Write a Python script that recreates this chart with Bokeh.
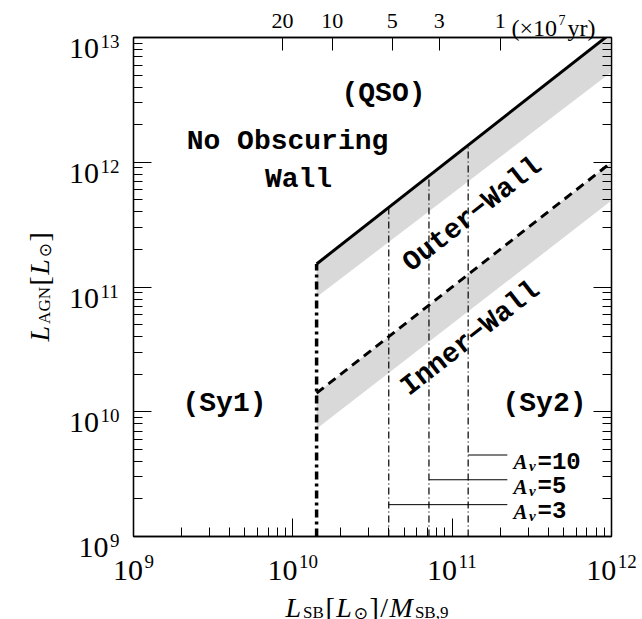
import numpy as np
from bokeh.plotting import figure
from bokeh.models import FixedTicker, LogAxis, Label, Range1d
from bokeh.core.properties import value
from bokeh.embed import file_html
from bokeh.resources import INLINE

# ---------------- data ----------------
wall_x = [1.41e10, 1.0e12]            # L_SB where the walls start / right edge
outer_wall_y = [1.53e11, 1.09e13]     # solid line (outer wall)
outer_band_lo = [8.3e10, 5.3e12]      # lower edge of grey band under outer wall
inner_wall_y = [1.41e10, 1.0e12]      # dashed line (inner wall)
inner_band_lo = [7.3e9, 4.93e11]      # lower edge of grey band under inner wall

av_values = ["10", "5", "3"]
av_x = [1.26e11, 7.15e10, 4.0e10]     # vertical dash-dot lines
av_y = [4.5e9, 2.85e9, 1.8e9]         # horizontal marker lines
av_end_x = 2.22e11

age_labels = ["20", "10", "5", "3", "1"]           # x 10^7 yr
age_x = [8.6e9, 1.77e10, 4.2e10, 8.3e10, 2.0e11]

x_decades = [1e9, 1e10, 1e11, 1e12]
x_exponents = ["9", "10", "11", "12"]
y_decades = [1e9, 1e10, 1e11, 1e12, 1e13]
y_exponents = ["9", "10", "11", "12", "13"]

# ---------------- figure ----------------
W, H = 642, 619
FL, FR, FT, FB = 133, 611, 37, 536   # intended frame edges (canvas px)

p = figure(width=W, height=H, x_axis_type="log", y_axis_type="log",
           x_range=Range1d(1e9, 1e12), y_range=Range1d(1e9, 1e13),
           output_backend="svg", toolbar_location=None,
           min_border_left=FL, min_border_right=W - FR,
           min_border_top=FT, min_border_bottom=H - FB)
p.grid.visible = False
p.background_fill_color = "white"
p.border_fill_color = "white"
p.outline_line_color = "black"
p.outline_line_width = 1.3

def minors(decs):
    return [float(k * d) for d in decs[:-1] for k in range(2, 10)]

SERIF = "Liberation Serif"
MONO = "Liberation Mono"

def style_axis(ax):
    ax.major_tick_in = 18
    ax.major_tick_out = 0
    ax.minor_tick_in = 9
    ax.minor_tick_out = 0
    ax.axis_line_color = "black"
    ax.axis_line_width = 1.3
    ax.major_tick_line_color = "black"
    ax.minor_tick_line_color = "black"
    ax.major_label_text_font = SERIF
    ax.major_label_text_font_size = "2px"
    ax.major_label_text_color = None
    ax.major_label_standoff = 0

xa = p.xaxis[0]
xa.ticker = FixedTicker(ticks=x_decades, minor_ticks=minors(x_decades))
style_axis(xa)
ya = p.yaxis[0]
ya.ticker = FixedTicker(ticks=y_decades, minor_ticks=minors(y_decades))
style_axis(ya)

ra = LogAxis(ticker=FixedTicker(ticks=y_decades, minor_ticks=minors(y_decades)))
style_axis(ra)
p.add_layout(ra, "right")

ta = LogAxis(ticker=FixedTicker(ticks=age_x))
style_axis(ta)
ta.major_tick_in = 13
ta.minor_tick_line_color = None
ta.major_label_overrides = dict(zip(age_x, age_labels))
ta.major_label_text_font_size = "22px"
ta.major_label_text_color = "black"
ta.major_label_standoff = 10
p.add_layout(ta, "above")

# ---------------- marks ----------------
GREY = "#d9d9d9"
p.varea(x=wall_x, y1=outer_band_lo, y2=outer_wall_y, fill_color=GREY)
p.varea(x=wall_x, y1=inner_band_lo, y2=inner_wall_y, fill_color=GREY)

p.line(wall_x, outer_wall_y, line_color="black", line_width=3)
p.line(wall_x, inner_wall_y, line_color="black", line_width=3, line_dash="9 6")

# thick dash-dot vertical at the wall start
p.line([wall_x[0], wall_x[0]], [1e9, outer_wall_y[0]], line_color="black",
       line_width=3.5, line_dash="8 4 3 4")

lx = np.log10(wall_x)
ly = np.log10(outer_wall_y)
for xv in av_x:
    ytop = float(10 ** np.interp(np.log10(xv), lx, ly))
    p.line([xv, xv], [1e9, ytop], line_color="black", line_width=1.2,
           line_dash="7 3 1 3")

p.segment(x0=av_x, y0=av_y, x1=[av_end_x] * 3, y1=av_y,
          line_color="black", line_width=1)

# ---------------- text ----------------
def dxv(px):
    return float(10 ** (9 + 3 * (px - FL) / (FR - FL)))

def dyv(py):
    return float(10 ** (9 + 4 * (FB - py) / (FB - FT)))

def pyv(yd):
    return float(FB - (np.log10(yd) - 9) * (FB - FT) / 4)

def pxv(xd):
    return float(FL + (np.log10(xd) - 9) * (FR - FL) / 3)

def lab(text, px, py, size, font=MONO, style="bold", align="center",
        baseline="middle", angle=0.0):
    # text inside the frame
    p.add_layout(Label(x=dxv(px), y=dyv(py), text=text, text_font=font,
                       text_font_size=f"{size}px", text_font_style=style,
                       text_align=align, text_baseline=baseline,
                       angle=float(angle), text_color="black"))

def otxt(text, px, py, size, font=SERIF, style="normal", align="left",
         baseline="alphabetic", angle=0.0):
    # text outside the frame: anchored just inside, shifted by pixel offsets
    apx = min(max(px, FL + 2), FR - 2)
    apy = min(max(py, FT + 2), FB - 2)
    p.text(x=[dxv(apx)], y=[dyv(apy)], text=[text],
           x_offset=float(px - apx), y_offset=float(py - apy),
           angle=float(angle), text_font=value(font),
           text_font_size=value(f"{size}px"), text_font_style=style,
           text_align=align, text_baseline=baseline, text_color="black",
           level="guide")

# x axis label: L_SB[L_sun]/M_SB,9
pieces_x = [("L", 28, SERIF, "italic", 0, 17.6),
            ("SB", 17, SERIF, "normal", 5, 22.3),
            ("[", 28, SERIF, "normal", 0, 10.8),
            ("L", 28, SERIF, "italic", 0, 17.6),
            ("\u2299", 17, "DejaVu Sans", "normal", 5, 15.7),
            ("]", 28, SERIF, "normal", 0, 10.8),
            ("/", 28, SERIF, "normal", 0, 9.3),
            ("M", 28, SERIF, "italic", 0, 25.3),
            ("SB,9", 17, SERIF, "normal", 5, 33.5)]
cx = 285
for t, s, f, st, db, adv in pieces_x:
    otxt(t, cx, 607 + db, s, font=f, style=st)
    cx += adv

# y axis label (rotated): L_AGN[L_sun]
pieces_y = [("L", 28, SERIF, "italic", 0, 17.6),
            ("AGN", 17, SERIF, "normal", 5, 38.3),
            ("[", 28, SERIF, "normal", 0, 10.8),
            ("L", 28, SERIF, "italic", 0, 17.6),
            ("\u2299", 17, "DejaVu Sans", "normal", 5, 15.7),
            ("]", 28, SERIF, "normal", 0, 9.3)]
cy = 341
for t, s, f, st, db, adv in pieces_y:
    otxt(t, 39 + db, cy, s, font=f, style=st, angle=np.pi / 2)
    cy -= adv

# time-axis unit
otxt("(×10", 511, 27, 24)
otxt("7", 558, 19, 14)
otxt("yr)", 567, 27, 24)

# tick labels "10" + exponent
BASE_FS, EXP_FS = 30, 19
def tick_label(cx, cy, expo, align, raise_px):
    wbase = BASE_FS * 1.0
    wexp = EXP_FS * 0.5 * len(expo)
    gap = 1.5
    if align == "center":
        x0 = cx - (wbase + gap + wexp) / 2
    else:
        x0 = cx - (wbase + gap + wexp)
    otxt("10", x0, cy, BASE_FS)
    otxt(expo, x0 + wbase + gap, cy - raise_px, EXP_FS)

for d, e in zip(x_decades, x_exponents):
    tick_label(pxv(d), 570, e, "center", 9)
for d, e in zip(y_decades, y_exponents):
    tick_label(119, pyv(d) + 11, e, "right", 7)

lab("(QSO)", 383, 93, 28)
lab("No Obscuring", 287, 141, 28)
lab("Wall", 298, 179, 28)
lab("(Sy1)", 224, 403, 28)
lab("(Sy2)", 544, 403, 28)
ang = float(np.arctan((FB - FT) / 4 / ((FR - FL) / 3)))
lab("Outer\u2212Wall", 472, 214, 28, angle=ang)
lab("Inner\u2212Wall", 470, 338, 28, angle=ang)

# A_v labels
for v, yv in zip(av_values, av_y):
    py = pyv(yv)
    lab("A", 513, py + 7, 21, font=SERIF, style="bold italic", align="left",
        baseline="alphabetic")
    lab("v", 528.5, py + 11, 15, font=SERIF, style="bold italic", align="left",
        baseline="alphabetic")
    lab("=" + v, 537, py + 7, 24, font=MONO, style="bold", align="left",
        baseline="alphabetic")

open("out.html", "w").write(file_html(p, INLINE))
